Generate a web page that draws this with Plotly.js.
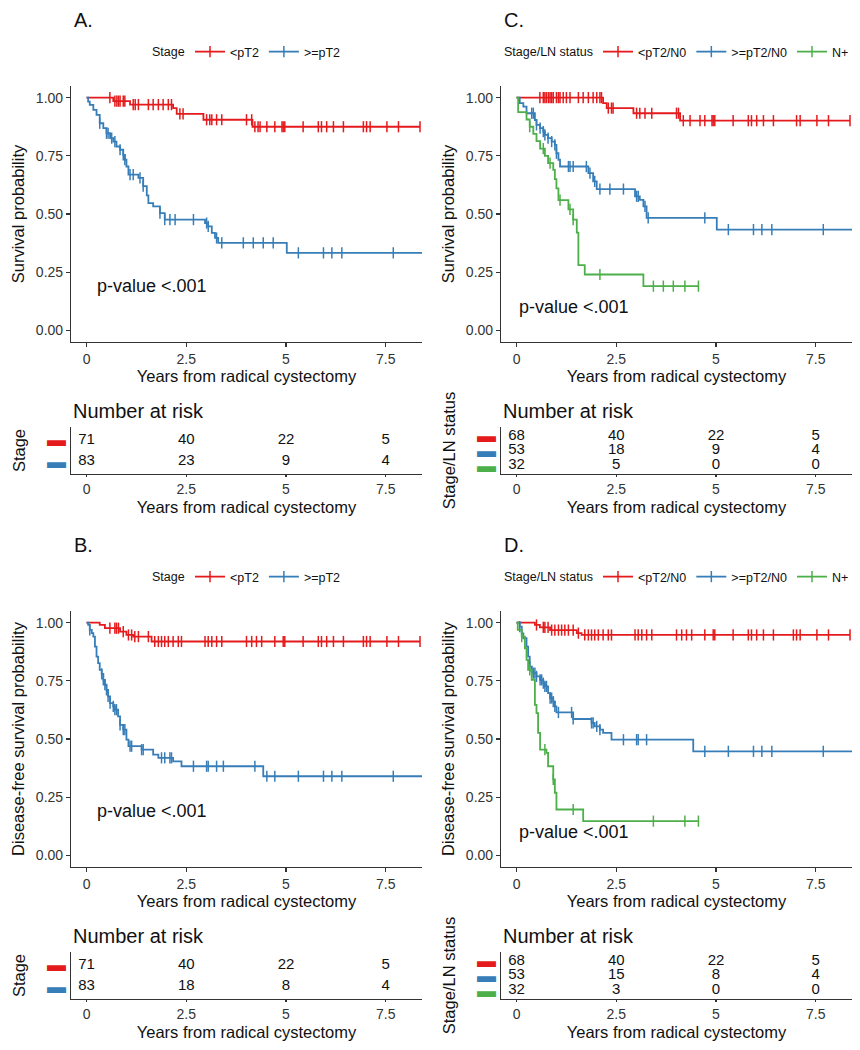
<!DOCTYPE html>
<html><head><meta charset="utf-8">
<script src="https://cdn.plot.ly/plotly-3.0.1.min.js"></script>
<style>html,body{margin:0;padding:0;background:#fff}#chart{width:860px;height:1050px}</style>
</head><body><div id="chart"></div>
<script>
const RED='#E41A1C', BLUE='#377EB8', GREEN='#4DAF4A';
const riskTimes=[0,2.5,5,7.5];
const xTickVals=[0,2.5,5,7.5];
const yTickVals=[0,0.25,0.5,0.75,1];

// ---- Panel A: survival by stage ----
const A_lt_time=[0.67,1.09,2.17,2.26,2.93,4.16];
const A_lt_surv=[0.985,0.970,0.955,0.930,0.905,0.875];
const A_lt_cens=[0.585,0.71,0.76,0.80,0.84,0.92,0.96,1.17,1.22,1.30,1.55,1.67,1.80,1.92,2.05,2.13,2.34,2.42,3.01,3.09,3.14,3.26,3.39,4.01,4.14,4.22,4.30,4.35,4.52,4.72,4.90,4.93,4.97,5.43,5.81,5.89,6.02,6.19,6.44,6.94,7.02,7.11,7.53,7.82,8.36];
const A_ge_time=[0.04,0.08,0.17,0.25,0.33,0.42,0.50,0.59,0.67,0.75,0.84,0.92,0.96,1.00,1.05,1.30,1.42,1.51,1.55,1.67,1.84,1.96,2.97,3.05,3.14,3.22,3.30,5.02];
const A_ge_surv=[0.983,0.969,0.947,0.926,0.890,0.869,0.847,0.826,0.811,0.790,0.776,0.754,0.733,0.704,0.669,0.655,0.620,0.580,0.547,0.533,0.504,0.476,0.461,0.447,0.419,0.397,0.376,0.333];
const A_ge_cens=[0.33,0.50,0.54,0.63,0.71,0.84,0.92,0.96,1.09,1.17,1.34,1.42,1.84,1.96,2.09,2.22,2.68,3.01,3.05,3.26,3.39,3.93,4.18,4.43,4.68,5.31,5.94,6.15,6.40,7.69,8.5];
const A_risk_lt=[71,40,22,5];
const A_risk_ge=[83,23,9,4];

// ---- Panel C: survival by stage / LN status ----
const C_lt_time=[2.17,2.26,2.93,4.10];
const C_lt_surv=[0.976,0.955,0.933,0.901];
const C_lt_cens=[0.585,0.67,0.71,0.75,0.80,0.84,0.88,0.92,1.0,1.05,1.09,1.17,1.25,1.34,1.55,1.67,1.80,1.92,2.01,2.09,2.13,2.30,2.38,2.42,3.01,3.09,3.22,3.39,4.01,4.06,4.18,4.35,4.60,4.72,4.90,4.93,4.97,5.43,5.81,5.89,6.02,6.19,6.44,7.02,7.11,7.53,7.82,8.36];
const C_ge_time=[0.08,0.17,0.25,0.46,0.50,0.59,0.67,0.71,0.79,0.88,0.96,1.00,1.05,1.09,1.80,1.92,2.01,2.97,3.09,3.18,3.26,5.02];
const C_ge_surv=[0.976,0.961,0.933,0.904,0.883,0.869,0.854,0.840,0.826,0.811,0.797,0.761,0.733,0.704,0.676,0.640,0.607,0.576,0.561,0.533,0.483,0.433];
const C_ge_cens=[0.38,0.42,0.50,0.59,0.67,0.71,0.79,0.88,0.96,1.0,1.30,1.34,1.42,1.75,1.84,1.96,2.09,2.34,2.68,3.01,3.05,3.22,3.30,4.72,5.31,5.94,6.15,6.40,7.69,8.5];
const C_np_time=[0.04,0.25,0.33,0.42,0.50,0.59,0.71,0.79,0.92,0.96,1.0,1.05,1.30,1.42,1.51,1.55,1.71,3.18];
const C_np_surv=[0.938,0.906,0.875,0.844,0.813,0.781,0.750,0.719,0.690,0.650,0.610,0.560,0.520,0.476,0.420,0.280,0.240,0.190];
const C_np_cens=[0.33,0.67,0.84,1.09,1.34,1.42,2.09,3.43,3.68,3.93,4.22,4.56];
const C_risk_lt=[68,40,22,5];
const C_risk_ge=[53,18,9,4];
const C_risk_np=[32,5,0,0];

// ---- Panel B: disease-free survival by stage ----
const B_lt_time=[0.33,0.46,0.84,1.00,1.17,1.63];
const B_lt_surv=[0.990,0.976,0.961,0.947,0.940,0.919];
const B_lt_cens=[0.585,0.71,0.75,0.80,0.92,1.05,1.13,1.21,1.30,1.55,1.71,1.80,1.88,1.96,2.05,2.17,2.30,2.38,2.97,3.05,3.14,3.26,3.39,4.01,4.14,4.26,4.39,4.72,4.93,4.97,5.43,5.81,5.89,6.02,6.19,6.44,6.94,7.02,7.11,7.53,7.82,8.36];
const B_ge_time=[0.04,0.08,0.13,0.17,0.21,0.25,0.29,0.33,0.38,0.42,0.46,0.50,0.54,0.59,0.67,0.71,0.79,0.84,0.92,1.00,1.05,1.38,1.67,1.80,2.17,2.38,4.43];
const B_ge_surv=[0.990,0.969,0.955,0.940,0.897,0.854,0.826,0.797,0.780,0.754,0.733,0.711,0.683,0.654,0.640,0.626,0.597,0.561,0.540,0.497,0.469,0.454,0.433,0.419,0.404,0.383,0.340];
const B_ge_cens=[0.08,0.38,0.42,0.46,0.50,0.54,0.59,0.67,0.71,0.75,0.84,0.92,0.96,1.09,1.13,1.38,1.42,1.88,1.96,2.09,2.13,2.68,3.01,3.05,3.26,3.43,4.22,4.52,4.72,5.31,5.94,6.15,6.40,7.69,8.5];
const B_risk_lt=[71,40,22,5];
const B_risk_ge=[83,18,8,4];

// ---- Panel D: disease-free survival by stage / LN status ----
const D_lt_time=[0.46,0.585,0.84,1.51,1.63];
const D_lt_surv=[0.990,0.980,0.968,0.955,0.947];
const D_lt_cens=[0.50,0.67,0.71,0.79,0.88,0.96,1.05,1.13,1.21,1.30,1.42,1.55,1.71,1.80,1.88,1.96,2.05,2.17,2.30,2.38,2.97,3.05,3.14,3.26,3.39,4.01,4.14,4.26,4.39,4.72,4.93,4.97,5.43,5.81,5.89,6.02,6.19,6.44,6.94,7.02,7.11,7.53,7.82,8.36];
const D_ge_time=[0.08,0.13,0.17,0.25,0.29,0.33,0.38,0.42,0.50,0.59,0.67,0.71,0.79,0.84,0.92,0.96,1.00,1.42,1.88,1.96,2.09,2.17,2.38,4.43];
const D_ge_surv=[0.983,0.954,0.933,0.897,0.854,0.811,0.790,0.783,0.769,0.754,0.740,0.726,0.697,0.676,0.661,0.640,0.614,0.586,0.569,0.554,0.540,0.526,0.497,0.447];
const D_ge_cens=[0.08,0.33,0.38,0.42,0.46,0.50,0.59,0.63,0.67,0.71,0.75,0.84,0.88,0.92,0.96,1.05,1.38,1.42,1.88,1.92,2.01,2.09,2.68,3.01,3.05,3.26,4.72,5.31,5.94,6.15,6.40,7.69,8.5];
const D_np_time=[0.03,0.13,0.21,0.25,0.29,0.38,0.46,0.50,0.54,0.59,0.75,0.79,0.92,0.96,1.00,1.67];
const D_np_surv=[0.969,0.940,0.890,0.840,0.797,0.754,0.647,0.611,0.526,0.454,0.440,0.383,0.326,0.269,0.197,0.147];
const D_np_cens=[0.13,0.33,0.71,0.92,1.42,3.43,4.22,4.56];
const D_risk_lt=[68,40,22,5];
const D_risk_ge=[53,15,8,4];
const D_risk_np=[32,3,0,0];

const stageNames=['<pT2','>=pT2'];
const lnNames=['<pT2/N0','>=pT2/N0','N+'];

const FONT='Liberation Sans, Arial, sans-serif';

function stepAt(times,surv,t){let s=1;for(let i=0;i<times.length;i++){if(times[i]<=t)s=surv[i];}return s;}
function kmTrace(times,surv,cens,color,name,xa,ya,legend){
  const pts=[{t:0,s:1,c:0}];
  times.forEach((t,i)=>pts.push({t:t,s:surv[i],c:0}));
  cens.forEach(t=>pts.push({t:t,s:stepAt(times,surv,t),c:1}));
  pts.sort((a,b)=>(a.t-b.t)||(a.c-b.c));
  const sel=[];pts.forEach((p,i)=>{if(p.c)sel.push(i);});
  return {type:'scatter',mode:'lines+markers',x:pts.map(p=>p.t),y:pts.map(p=>p.s),xaxis:xa,yaxis:ya,
    name:name,legend:legend,line:{shape:'hv',color:color,width:1.8},
    marker:{symbol:'line-ns-open',size:8,color:color,line:{color:color,width:1.5}},
    selectedpoints:sel,selected:{marker:{opacity:1}},unselected:{marker:{opacity:0}},
    hoverinfo:'skip',cliponaxis:true};
}
function riskTrace(vals,row,xa,ya){
  return {type:'scatter',mode:'text',x:riskTimes,y:riskTimes.map(()=>row),text:vals.map(String),
    textfont:{size:15,color:'#111',family:FONT},xaxis:xa,yaxis:ya,showlegend:false,hoverinfo:'skip',cliponaxis:false};
}
function bar(c){return '<span style="color:'+c+'">▬</span>';}

const panels=[
 {label:'A.',col:0,row:0,ytitle:'Survival probability',ttitle:'Stage',legTitle:'Stage',legX:190,
  curves:[[A_lt_time,A_lt_surv,A_lt_cens,RED,stageNames[0]],[A_ge_time,A_ge_surv,A_ge_cens,BLUE,stageNames[1]]],
  risk:[A_risk_lt,A_risk_ge],colors:[RED,BLUE],pval:[0.2,0.19]},
 {label:'C.',col:1,row:0,ytitle:'Survival probability',ttitle:'Stage/LN status',legTitle:'Stage/LN status',legX:598,
  curves:[[C_lt_time,C_lt_surv,C_lt_cens,RED,lnNames[0]],[C_ge_time,C_ge_surv,C_ge_cens,BLUE,lnNames[1]],[C_np_time,C_np_surv,C_np_cens,GREEN,lnNames[2]]],
  risk:[C_risk_lt,C_risk_ge,C_risk_np],colors:[RED,BLUE,GREEN],pval:[0.02,0.10]},
 {label:'B.',col:0,row:1,ytitle:'Disease-free survival probability',ttitle:'Stage',legTitle:'Stage',legX:190,
  curves:[[B_lt_time,B_lt_surv,B_lt_cens,RED,stageNames[0]],[B_ge_time,B_ge_surv,B_ge_cens,BLUE,stageNames[1]]],
  risk:[B_risk_lt,B_risk_ge],colors:[RED,BLUE],pval:[0.2,0.19]},
 {label:'D.',col:1,row:1,ytitle:'Disease-free survival probability',ttitle:'Stage/LN status',legTitle:'Stage/LN status',legX:598,
  curves:[[D_lt_time,D_lt_surv,D_lt_cens,RED,lnNames[0]],[D_ge_time,D_ge_surv,D_ge_cens,BLUE,lnNames[1]],[D_np_time,D_np_surv,D_np_cens,GREEN,lnNames[2]]],
  risk:[D_risk_lt,D_risk_ge,D_risk_np],colors:[RED,BLUE,GREEN],pval:[0.02,0.10]}
];

const W=860,H=1050;
const traces=[];
const layout={width:W,height:H,margin:{l:0,r:0,t:0,b:0},paper_bgcolor:'#fff',plot_bgcolor:'#fff',
  font:{family:FONT,color:'#111'},annotations:[],showlegend:true};
const axBase={showline:true,linecolor:'#333',linewidth:1.1,ticks:'outside',ticklen:4,tickcolor:'#333',tickwidth:1.1,
  showgrid:false,zeroline:false,tickfont:{size:14,color:'#333',family:FONT},fixedrange:true,automargin:false};

panels.forEach((p,pi)=>{
  const kIdx=pi*2+1, tIdx=pi*2+2;
  const kx='x'+(kIdx===1?'':kIdx), ky='y'+(kIdx===1?'':kIdx);
  const tx='x'+tIdx, ty='y'+tIdx;
  const xOff=p.col*430, yOff=p.row*525;
  const xd=[(71+xOff)/W,(422+xOff)/W];
  const legName=pi===0?'legend':'legend'+(pi+1);
  layout['xaxis'+(kIdx===1?'':kIdx)]=Object.assign({},axBase,{domain:xd,anchor:ky,range:[-0.39,8.41],tickvals:xTickVals,ticktext:xTickVals.map(String),
    title:{text:'Years from radical cystectomy',font:{size:16.5,color:'#111'},standoff:3}});
  layout['yaxis'+(kIdx===1?'':kIdx)]=Object.assign({},axBase,{domain:[1-(342+yOff)/H,1-(86+yOff)/H],anchor:kx,range:[-0.05,1.05],
    tickvals:yTickVals,ticktext:yTickVals.map(v=>v.toFixed(2)),title:{text:p.ytitle,font:{size:16.5,color:'#111'},standoff:7}});
  const nr=p.risk.length;
  layout['xaxis'+tIdx]=Object.assign({},axBase,{domain:xd,anchor:ty,range:[-0.39,8.41],tickvals:xTickVals,ticktext:xTickVals.map(String),
    ticklen:2,title:{text:'Years from radical cystectomy',font:{size:16.5,color:'#111'},standoff:5}});
  layout['yaxis'+tIdx]=Object.assign({},axBase,{domain:[1-(474+yOff)/H,1-(427+yOff)/H],anchor:tx,range:[nr+0.6,0.4],
    ticks:'',tickvals:p.risk.map((r,i)=>i+1),ticktext:p.colors.map(bar),tickfont:{size:19,family:'Liberation Sans'},
    title:{text:p.ttitle,font:{size:16.5,color:'#111'},standoff:17}});
  p.curves.forEach(c=>traces.push(kmTrace(c[0],c[1],c[2],c[3],c[4],kx,ky,legName)));
  p.risk.forEach((r,i)=>traces.push(riskTrace(r,i+1,tx,ty)));
  layout[legName]={orientation:'h',x:p.legX/W,xanchor:'left',y:1-(52+yOff)/H,yanchor:'middle',
    font:{size:12.5,color:'#111'},bgcolor:'rgba(0,0,0,0)',itemwidth:30,tracegroupgap:0};
  layout.annotations.push({text:p.legTitle,xref:'paper',yref:'paper',x:(p.legX-3)/W,y:1-(52+yOff)/H,xanchor:'right',yanchor:'middle',showarrow:false,font:{size:12.5,color:'#111'}});
  layout.annotations.push({text:p.label,xref:'paper',yref:'paper',x:(72+xOff)/W,y:1-(20+yOff)/H,xanchor:'left',yanchor:'middle',showarrow:false,font:{size:20,color:'#111'}});
  layout.annotations.push({text:'Number at risk',xref:tx+' domain',yref:ty+' domain',x:0,y:1,xanchor:'left',yanchor:'bottom',yshift:3,showarrow:false,font:{size:20,color:'#111'}});
  layout.annotations.push({text:'p-value <.001',xref:kx,yref:ky,x:p.pval[0],y:p.pval[1],xanchor:'left',yanchor:'middle',showarrow:false,font:{size:18,color:'#111'}});
});

Plotly.newPlot('chart',traces,layout,{staticPlot:true,displayModeBar:false});
</script></body></html>
